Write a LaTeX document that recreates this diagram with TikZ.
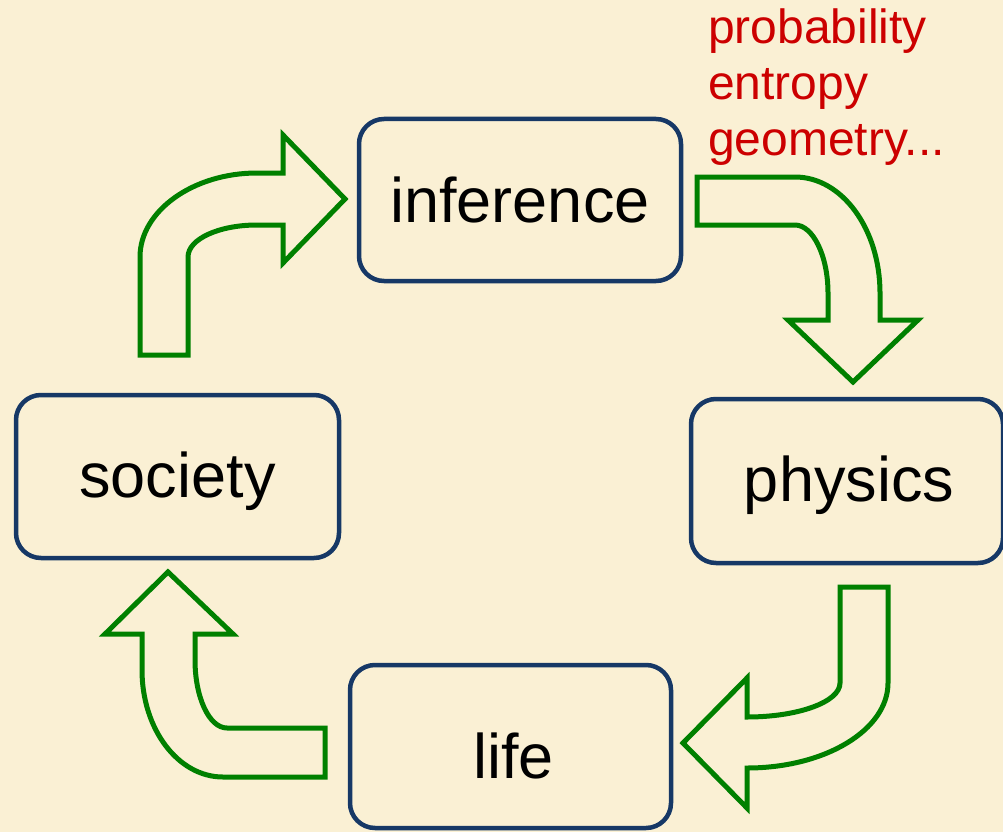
\documentclass[tikz,border=0pt]{standalone}
\usepackage{fontspec}
\setmainfont{Liberation Sans}
\definecolor{bg}{RGB}{250,240,212}
\definecolor{navy}{RGB}{22,56,102}
\definecolor{arrowgreen}{RGB}{0,128,0}
\definecolor{notered}{RGB}{204,0,0}
\tikzset{
  topicbox/.style={draw=navy, line width=4.5pt, rounded corners=25pt, inner sep=0pt},
  topictext/.style={inner sep=0pt, font=\fontsize{63}{70}\selectfont, text=black},
  blockarrow/.style={draw=arrowgreen, line width=5pt, line join=miter, fill=bg},
}
\begin{document}
\begin{tikzpicture}[x=1pt,y=-1pt]
\fill[bg] (0,0) rectangle (1003,832);
\useasboundingbox (0,0) rectangle (1003,832);

\node[topicbox, minimum width=322pt, minimum height=162pt] (inference) at (520,200) {};
\node[topicbox, minimum width=323pt, minimum height=163pt] (society) at (177.5,476.5) {};
\node[topicbox, minimum width=312pt, minimum height=164pt] (physics) at (847,481) {};
\node[topicbox, minimum width=321pt, minimum height=163pt] (life) at (510.5,746.5) {};

\node[topictext] (inference-t) at (inference.center) {inference};
\node[topictext] (society-t) at ([yshift=-5pt]society.center) {society};
\node[topictext] (physics-t) at ([yshift=-4pt,xshift=2pt]physics.center) {physics};
\node[topictext] (life-t) at ([yshift=-9pt,xshift=3pt]life.center) {life};

\node[anchor=north west, align=left, inner sep=0pt, text=notered,
  font=\fontsize{48}{56}\selectfont] (notes) at (708,9) {probability\\entropy\\geometry...};

% society -> inference
\draw[blockarrow] (140,355) -- (140,257) .. controls (140,211) and (193,173) .. (257,173)
  -- (283,173) -- (283,135) -- (345,199) -- (283,263) -- (283,225) -- (257,225)
  .. controls (219,225) and (188,239) .. (188,257) -- (188,355) -- cycle;
% inference -> physics
\draw[blockarrow] (697,177) -- (795,177) .. controls (842,177) and (880,229) .. (880,293)
  -- (880,320) -- (918,320) -- (853,382) -- (788,320) -- (828,320) -- (828,293)
  .. controls (828,256) and (813,225) .. (795,225) -- (697,225) -- cycle;
% physics -> life
\draw[blockarrow] (840,587) -- (888,587) -- (888,683) .. controls (888,730) and (825,768) .. (747,768)
  -- (747,808) -- (683,743) -- (747,678) -- (747,717)
  .. controls (798,717) and (840,702) .. (840,683) -- cycle;
% life -> society
\draw[blockarrow] (325,728) -- (325,777) -- (223,777) .. controls (178,777) and (142,729) .. (142,670)
  -- (142,634) -- (105,634) -- (168,572) -- (233,634) -- (195,634) -- (195,660)
  .. controls (195,697) and (209,728) .. (227,728) -- cycle;
\end{tikzpicture}
\end{document}
